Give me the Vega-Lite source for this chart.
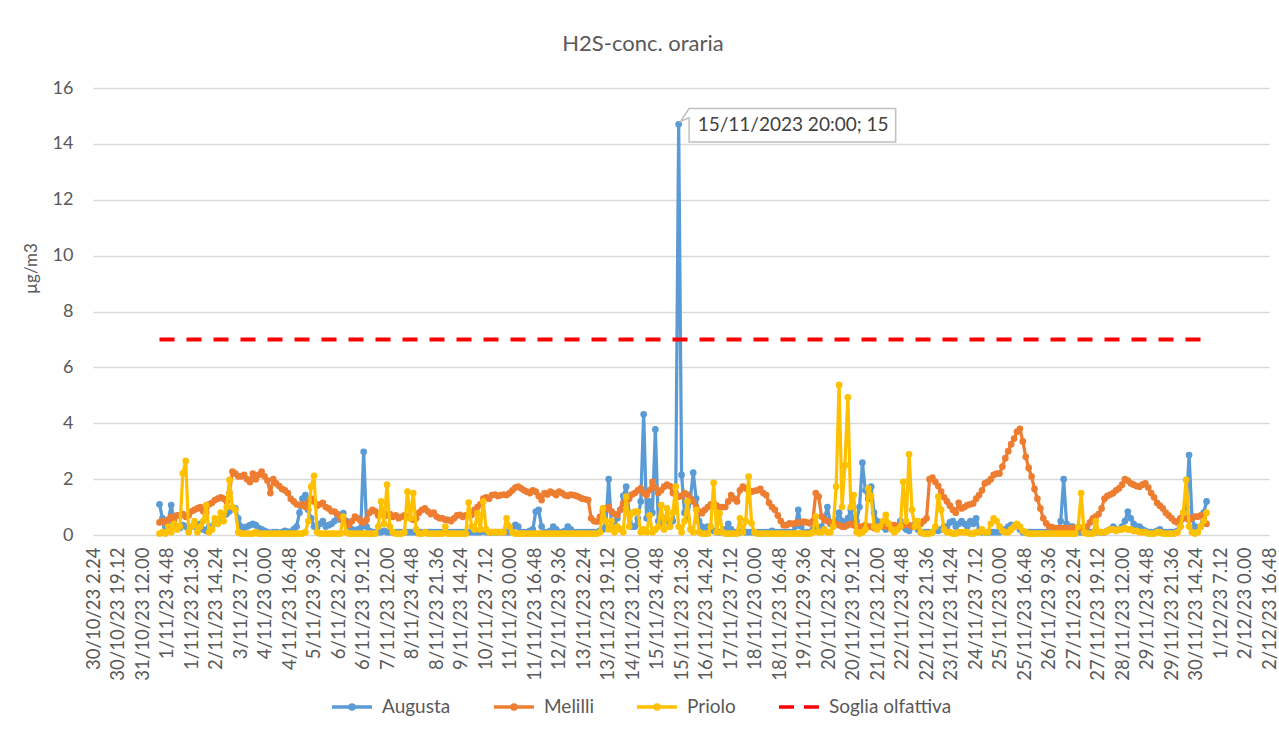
{
  "$schema": "https://vega.github.io/schema/vega-lite/v6.json",
  "autosize": {"type": "none"},
  "padding": {"left": 93, "top": 88, "right": 10, "bottom": 201},
  "width": 1176,
  "height": 447,
  "background": "white",
  "title": {"text": "H2S-conc. oraria", "fontSize": 22, "font": "Lato", "fontWeight": "normal", "color": "#595959", "anchor": "middle", "offset": 23, "dx": -38},
  "config": {
    "font": "Lato",
    "view": {"stroke": null}
  },
  "datasets": {
    "h2s": [
      {"t":"23110100","A":1.1,"M":0.45,"P":0.05},{"t":"23110102","A":0.6,"M":0.5,"P":0.1},{"t":"23110104","A":0.3,"M":0.45,"P":0.05},{"t":"23110106","A":0.5,"M":0.55,"P":0.3},{"t":"23110108","A":1.07,"M":0.65,"P":0.1},{"t":"23110110","A":0.5,"M":0.6,"P":0.4},{"t":"23110112","A":0.3,"M":0.7,"P":0.2},{"t":"23110114","A":0.25,"M":0.7,"P":0.3},{"t":"23110116","A":0.35,"M":0.75,"P":2.2},{"t":"23110118","A":0.3,"M":0.65,"P":2.65},{"t":"23110120","A":0.2,"M":0.7,"P":0.1},{"t":"23110122","A":0.3,"M":0.85,"P":0.3},
      {"t":"23110200","A":0.3,"M":0.9,"P":0.5},{"t":"23110202","A":0.25,"M":0.95,"P":0.1},{"t":"23110204","A":0.4,"M":1.0,"P":0.3},{"t":"23110206","A":0.2,"M":0.85,"P":0.5},{"t":"23110208","A":0.15,"M":0.8,"P":1.07},{"t":"23110210","A":0.3,"M":1.1,"P":0.1},{"t":"23110212","A":0.3,"M":1.15,"P":0.2},{"t":"23110214","A":0.45,"M":1.25,"P":0.6},{"t":"23110216","A":0.55,"M":1.3,"P":0.4},{"t":"23110218","A":0.6,"M":1.35,"P":0.8},{"t":"23110220","A":0.7,"M":1.3,"P":0.5},{"t":"23110222","A":0.75,"M":1.2,"P":1.0},
      {"t":"23110300","A":0.85,"M":1.5,"P":1.97},{"t":"23110302","A":0.95,"M":2.27,"P":1.0},{"t":"23110304","A":0.95,"M":2.2,"P":0.9},{"t":"23110306","A":0.6,"M":2.1,"P":0.1},{"t":"23110308","A":0.3,"M":2.1,"P":0.05},{"t":"23110310","A":0.25,"M":2.15,"P":0.05},{"t":"23110312","A":0.3,"M":2.0,"P":0.05},{"t":"23110314","A":0.35,"M":1.9,"P":0.05},{"t":"23110316","A":0.4,"M":2.2,"P":0.05},{"t":"23110318","A":0.35,"M":2.0,"P":0.1},{"t":"23110320","A":0.25,"M":2.15,"P":0.05},{"t":"23110322","A":0.2,"M":2.27,"P":0.05},
      {"t":"23110400","A":0.15,"M":2.1,"P":0.05},{"t":"23110402","A":0.1,"M":1.95,"P":0.05},{"t":"23110404","A":0.08,"M":1.5,"P":0.05},{"t":"23110406","A":0.1,"M":2.0,"P":0.05},{"t":"23110408","A":0.1,"M":1.85,"P":0.05},{"t":"23110410","A":0.08,"M":1.75,"P":0.05},{"t":"23110412","A":0.1,"M":1.65,"P":0.05},{"t":"23110414","A":0.15,"M":1.6,"P":0.05},{"t":"23110416","A":0.12,"M":1.5,"P":0.05},{"t":"23110418","A":0.1,"M":1.3,"P":0.05},{"t":"23110420","A":0.2,"M":1.2,"P":0.05},{"t":"23110422","A":0.3,"M":1.1,"P":0.05},
      {"t":"23110500","A":0.8,"M":1.07,"P":0.05},{"t":"23110502","A":1.3,"M":1.1,"P":0.05},{"t":"23110504","A":1.43,"M":1.0,"P":0.1},{"t":"23110506","A":0.9,"M":1.15,"P":0.5},{"t":"23110508","A":0.6,"M":1.3,"P":1.73},{"t":"23110510","A":0.3,"M":1.2,"P":2.12},{"t":"23110512","A":0.25,"M":1.05,"P":0.1},{"t":"23110514","A":0.4,"M":1.1,"P":0.05},{"t":"23110516","A":0.5,"M":1.15,"P":0.05},{"t":"23110518","A":0.3,"M":1.0,"P":0.05},{"t":"23110520","A":0.35,"M":0.95,"P":0.05},{"t":"23110522","A":0.4,"M":0.85,"P":0.05},
      {"t":"23110600","A":0.5,"M":0.84,"P":0.05},{"t":"23110602","A":0.7,"M":0.75,"P":0.05},{"t":"23110604","A":0.55,"M":0.6,"P":0.05},{"t":"23110606","A":0.78,"M":0.54,"P":0.66},{"t":"23110608","A":0.5,"M":0.45,"P":0.1},{"t":"23110610","A":0.3,"M":0.36,"P":0.05},{"t":"23110612","A":0.2,"M":0.5,"P":0.05},{"t":"23110614","A":0.15,"M":0.66,"P":0.05},{"t":"23110616","A":0.2,"M":0.6,"P":0.05},{"t":"23110618","A":0.25,"M":0.5,"P":0.05},{"t":"23110620","A":2.98,"M":0.45,"P":0.05},{"t":"23110622","A":0.3,"M":0.55,"P":0.05},
      {"t":"23110700","A":0.15,"M":0.8,"P":0.05},{"t":"23110702","A":0.1,"M":0.9,"P":0.05},{"t":"23110704","A":0.1,"M":0.85,"P":0.05},{"t":"23110706","A":0.1,"M":0.7,"P":0.3},{"t":"23110708","A":0.1,"M":0.75,"P":1.2},{"t":"23110710","A":0.15,"M":0.8,"P":0.4},{"t":"23110712","A":0.1,"M":0.7,"P":1.8},{"t":"23110714","A":0.1,"M":0.75,"P":0.3},{"t":"23110716","A":0.1,"M":0.65,"P":0.1},{"t":"23110718","A":0.1,"M":0.7,"P":0.05},{"t":"23110720","A":0.1,"M":0.6,"P":0.05},{"t":"23110722","A":0.1,"M":0.65,"P":0.05},
      {"t":"23110800","A":0.1,"M":0.7,"P":0.1},{"t":"23110802","A":0.1,"M":0.65,"P":1.55},{"t":"23110804","A":0.1,"M":0.6,"P":0.6},{"t":"23110806","A":0.1,"M":0.55,"P":1.5},{"t":"23110808","A":0.1,"M":0.6,"P":0.2},{"t":"23110810","A":0.1,"M":0.8,"P":0.05},{"t":"23110812","A":0.1,"M":0.9,"P":0.05},{"t":"23110814","A":0.1,"M":0.95,"P":0.1},{"t":"23110816","A":0.1,"M":0.85,"P":0.05},{"t":"23110818","A":0.1,"M":0.75,"P":0.05},{"t":"23110820","A":0.1,"M":0.8,"P":0.05},{"t":"23110822","A":0.1,"M":0.66,"P":0.05},
      {"t":"23110900","A":0.1,"M":0.6,"P":0.05},{"t":"23110902","A":0.1,"M":0.6,"P":0.05},{"t":"23110904","A":0.1,"M":0.55,"P":0.3},{"t":"23110906","A":0.1,"M":0.54,"P":0.05},{"t":"23110908","A":0.1,"M":0.5,"P":0.05},{"t":"23110910","A":0.1,"M":0.6,"P":0.05},{"t":"23110912","A":0.1,"M":0.7,"P":0.05},{"t":"23110914","A":0.1,"M":0.72,"P":0.05},{"t":"23110916","A":0.1,"M":0.65,"P":0.05},{"t":"23110918","A":0.1,"M":0.7,"P":0.05},{"t":"23110920","A":0.1,"M":0.72,"P":1.16},{"t":"23110922","A":0.1,"M":0.72,"P":0.3},
      {"t":"23111000","A":0.1,"M":0.9,"P":0.2},{"t":"23111002","A":0.1,"M":1.0,"P":0.78},{"t":"23111004","A":0.1,"M":1.1,"P":0.2},{"t":"23111006","A":0.15,"M":1.3,"P":1.2},{"t":"23111008","A":0.1,"M":1.35,"P":0.2},{"t":"23111010","A":0.1,"M":1.3,"P":0.1},{"t":"23111012","A":0.1,"M":1.43,"P":0.1},{"t":"23111014","A":0.1,"M":1.45,"P":0.1},{"t":"23111016","A":0.1,"M":1.4,"P":0.1},{"t":"23111018","A":0.1,"M":1.43,"P":0.1},{"t":"23111020","A":0.1,"M":1.45,"P":0.1},{"t":"23111022","A":0.1,"M":1.43,"P":0.6},
      {"t":"23111100","A":0.1,"M":1.5,"P":0.3},{"t":"23111102","A":0.2,"M":1.6,"P":0.1},{"t":"23111104","A":0.36,"M":1.7,"P":0.05},{"t":"23111106","A":0.3,"M":1.73,"P":0.05},{"t":"23111108","A":0.1,"M":1.67,"P":0.05},{"t":"23111110","A":0.1,"M":1.6,"P":0.05},{"t":"23111112","A":0.1,"M":1.55,"P":0.05},{"t":"23111114","A":0.15,"M":1.5,"P":0.05},{"t":"23111116","A":0.2,"M":1.6,"P":0.05},{"t":"23111118","A":0.84,"M":1.55,"P":0.05},{"t":"23111120","A":0.9,"M":1.4,"P":0.05},{"t":"23111122","A":0.3,"M":1.25,"P":0.05},
      {"t":"23111200","A":0.1,"M":1.5,"P":0.05},{"t":"23111202","A":0.1,"M":1.45,"P":0.05},{"t":"23111204","A":0.15,"M":1.55,"P":0.05},{"t":"23111206","A":0.3,"M":1.5,"P":0.05},{"t":"23111208","A":0.2,"M":1.43,"P":0.05},{"t":"23111210","A":0.1,"M":1.55,"P":0.05},{"t":"23111212","A":0.1,"M":1.5,"P":0.05},{"t":"23111214","A":0.15,"M":1.43,"P":0.05},{"t":"23111216","A":0.3,"M":1.4,"P":0.05},{"t":"23111218","A":0.2,"M":1.45,"P":0.05},{"t":"23111220","A":0.1,"M":1.43,"P":0.05},{"t":"23111222","A":0.1,"M":1.4,"P":0.05},
      {"t":"23111300","A":0.1,"M":1.35,"P":0.05},{"t":"23111302","A":0.1,"M":1.3,"P":0.05},{"t":"23111304","A":0.1,"M":1.28,"P":0.05},{"t":"23111306","A":0.1,"M":1.25,"P":0.05},{"t":"23111308","A":0.1,"M":0.6,"P":0.05},{"t":"23111310","A":0.1,"M":0.5,"P":0.05},{"t":"23111312","A":0.1,"M":0.48,"P":0.05},{"t":"23111314","A":0.15,"M":0.65,"P":0.1},{"t":"23111316","A":0.2,"M":0.84,"P":0.95},{"t":"23111318","A":0.3,"M":0.95,"P":0.5},{"t":"23111320","A":2.0,"M":1.0,"P":0.2},{"t":"23111322","A":0.3,"M":0.85,"P":0.5},
      {"t":"23111400","A":0.4,"M":0.75,"P":0.1},{"t":"23111402","A":0.6,"M":0.72,"P":0.3},{"t":"23111404","A":0.9,"M":0.9,"P":0.2},{"t":"23111406","A":1.4,"M":1.13,"P":0.1},{"t":"23111408","A":1.73,"M":1.2,"P":1.37},{"t":"23111410","A":0.8,"M":1.3,"P":0.3},{"t":"23111412","A":0.3,"M":1.45,"P":0.78},{"t":"23111414","A":0.3,"M":1.5,"P":0.84},{"t":"23111416","A":0.6,"M":1.6,"P":0.84},{"t":"23111418","A":1.2,"M":1.67,"P":0.1},{"t":"23111420","A":4.32,"M":1.5,"P":0.2},{"t":"23111422","A":0.6,"M":1.43,"P":0.1},
      {"t":"23111500","A":1.2,"M":1.6,"P":0.7},{"t":"23111502","A":0.8,"M":1.9,"P":0.1},{"t":"23111504","A":3.78,"M":1.7,"P":0.2},{"t":"23111506","A":0.5,"M":1.5,"P":0.3},{"t":"23111508","A":0.4,"M":1.6,"P":1.07},{"t":"23111510","A":0.6,"M":1.73,"P":0.2},{"t":"23111512","A":0.5,"M":1.8,"P":0.95},{"t":"23111514","A":0.3,"M":1.75,"P":0.3},{"t":"23111516","A":0.5,"M":1.5,"P":0.8},{"t":"23111518","A":1.5,"M":1.45,"P":1.73},{"t":"23111520","A":14.7,"M":1.37,"P":0.3},{"t":"23111522","A":2.15,"M":1.4,"P":0.1},
      {"t":"23111600","A":0.8,"M":1.5,"P":0.5},{"t":"23111602","A":0.6,"M":1.45,"P":1.2},{"t":"23111604","A":1.3,"M":1.3,"P":0.2},{"t":"23111606","A":2.23,"M":1.2,"P":0.1},{"t":"23111608","A":1.3,"M":1.0,"P":0.9},{"t":"23111610","A":0.5,"M":0.85,"P":0.1},{"t":"23111612","A":0.3,"M":0.78,"P":0.05},{"t":"23111614","A":0.2,"M":0.9,"P":0.05},{"t":"23111616","A":0.3,"M":1.0,"P":0.05},{"t":"23111618","A":0.2,"M":1.1,"P":0.3},{"t":"23111620","A":0.15,"M":1.13,"P":1.87},{"t":"23111622","A":0.1,"M":1.05,"P":0.1},
      {"t":"23111700","A":0.1,"M":1.0,"P":0.78},{"t":"23111702","A":0.15,"M":1.0,"P":0.1},{"t":"23111704","A":0.2,"M":1.0,"P":0.05},{"t":"23111706","A":0.4,"M":1.2,"P":0.05},{"t":"23111708","A":0.2,"M":1.43,"P":0.05},{"t":"23111710","A":0.1,"M":1.3,"P":0.05},{"t":"23111712","A":0.1,"M":1.2,"P":0.05},{"t":"23111714","A":0.1,"M":1.6,"P":0.6},{"t":"23111716","A":0.15,"M":1.73,"P":0.1},{"t":"23111718","A":0.1,"M":1.67,"P":0.5},{"t":"23111720","A":0.1,"M":1.6,"P":2.09},{"t":"23111722","A":0.1,"M":1.55,"P":0.42},
      {"t":"23111800","A":0.1,"M":1.58,"P":0.1},{"t":"23111802","A":0.1,"M":1.6,"P":0.05},{"t":"23111804","A":0.1,"M":1.65,"P":0.05},{"t":"23111806","A":0.1,"M":1.5,"P":0.05},{"t":"23111808","A":0.1,"M":1.43,"P":0.05},{"t":"23111810","A":0.1,"M":1.15,"P":0.05},{"t":"23111812","A":0.15,"M":1.0,"P":0.05},{"t":"23111814","A":0.1,"M":0.9,"P":0.05},{"t":"23111816","A":0.1,"M":0.7,"P":0.05},{"t":"23111818","A":0.1,"M":0.5,"P":0.05},{"t":"23111820","A":0.1,"M":0.35,"P":0.05},{"t":"23111822","A":0.1,"M":0.35,"P":0.05},
      {"t":"23111900","A":0.1,"M":0.42,"P":0.05},{"t":"23111902","A":0.1,"M":0.4,"P":0.05},{"t":"23111904","A":0.3,"M":0.42,"P":0.05},{"t":"23111906","A":0.9,"M":0.45,"P":0.05},{"t":"23111908","A":0.3,"M":0.45,"P":0.05},{"t":"23111910","A":0.1,"M":0.48,"P":0.05},{"t":"23111912","A":0.1,"M":0.45,"P":0.05},{"t":"23111914","A":0.1,"M":0.42,"P":0.05},{"t":"23111916","A":0.2,"M":0.5,"P":0.1},{"t":"23111918","A":0.3,"M":1.5,"P":0.66},{"t":"23111920","A":0.2,"M":1.37,"P":0.1},{"t":"23111922","A":0.3,"M":0.66,"P":0.1},
      {"t":"23112000","A":0.6,"M":0.54,"P":0.2},{"t":"23112002","A":1.0,"M":0.5,"P":0.1},{"t":"23112004","A":0.4,"M":0.45,"P":0.1},{"t":"23112006","A":0.3,"M":0.4,"P":0.3},{"t":"23112008","A":0.5,"M":0.4,"P":1.73},{"t":"23112010","A":0.8,"M":0.35,"P":5.37},{"t":"23112012","A":0.5,"M":0.3,"P":1.0},{"t":"23112014","A":0.4,"M":0.3,"P":2.5},{"t":"23112016","A":0.6,"M":0.35,"P":4.93},{"t":"23112018","A":0.9,"M":0.4,"P":1.0},{"t":"23112020","A":0.5,"M":0.35,"P":1.43},{"t":"23112022","A":0.5,"M":0.3,"P":0.1},
      {"t":"23112100","A":1.0,"M":0.3,"P":0.05},{"t":"23112102","A":2.59,"M":0.3,"P":0.1},{"t":"23112104","A":1.6,"M":0.35,"P":0.2},{"t":"23112106","A":1.3,"M":0.3,"P":1.67},{"t":"23112108","A":1.73,"M":0.3,"P":1.4},{"t":"23112110","A":0.8,"M":0.25,"P":0.3},{"t":"23112112","A":0.5,"M":0.3,"P":0.2},{"t":"23112114","A":0.4,"M":0.3,"P":0.3},{"t":"23112116","A":0.3,"M":0.35,"P":0.5},{"t":"23112118","A":0.2,"M":0.3,"P":0.72},{"t":"23112120","A":0.4,"M":0.3,"P":0.4},{"t":"23112122","A":0.3,"M":0.35,"P":0.2},
      {"t":"23112200","A":0.2,"M":0.35,"P":0.1},{"t":"23112202","A":0.3,"M":0.3,"P":0.2},{"t":"23112204","A":0.5,"M":0.3,"P":0.3},{"t":"23112206","A":0.3,"M":0.35,"P":1.9},{"t":"23112208","A":0.2,"M":0.4,"P":0.5},{"t":"23112210","A":0.15,"M":0.35,"P":2.89},{"t":"23112212","A":0.3,"M":0.3,"P":0.9},{"t":"23112214","A":0.4,"M":0.3,"P":0.3},{"t":"23112216","A":0.2,"M":0.35,"P":0.5},{"t":"23112218","A":0.1,"M":0.4,"P":0.1},{"t":"23112220","A":0.1,"M":0.5,"P":0.05},{"t":"23112222","A":0.1,"M":0.6,"P":0.05},
      {"t":"23112300","A":0.1,"M":2.0,"P":0.05},{"t":"23112302","A":0.1,"M":2.05,"P":0.1},{"t":"23112304","A":0.2,"M":1.9,"P":0.3},{"t":"23112306","A":0.15,"M":1.75,"P":1.37},{"t":"23112308","A":0.2,"M":1.55,"P":0.9},{"t":"23112310","A":0.3,"M":1.35,"P":0.2},{"t":"23112312","A":0.3,"M":1.2,"P":0.1},{"t":"23112314","A":0.45,"M":1.05,"P":0.1},{"t":"23112316","A":0.5,"M":0.9,"P":0.05},{"t":"23112318","A":0.3,"M":0.8,"P":0.05},{"t":"23112320","A":0.4,"M":1.15,"P":0.1},{"t":"23112322","A":0.5,"M":0.95,"P":0.1},
      {"t":"23112400","A":0.4,"M":1.0,"P":0.1},{"t":"23112402","A":0.3,"M":1.07,"P":0.1},{"t":"23112404","A":0.5,"M":1.1,"P":0.05},{"t":"23112406","A":0.4,"M":1.13,"P":0.05},{"t":"23112408","A":0.6,"M":1.3,"P":0.1},{"t":"23112410","A":0.15,"M":1.43,"P":0.1},{"t":"23112412","A":0.1,"M":1.6,"P":0.2},{"t":"23112414","A":0.1,"M":1.85,"P":0.1},{"t":"23112416","A":0.1,"M":1.9,"P":0.1},{"t":"23112418","A":0.1,"M":2.0,"P":0.4},{"t":"23112420","A":0.1,"M":2.15,"P":0.6},{"t":"23112422","A":0.1,"M":2.2,"P":0.5},
      {"t":"23112500","A":0.1,"M":2.2,"P":0.3},{"t":"23112502","A":0.15,"M":2.45,"P":0.15},{"t":"23112504","A":0.2,"M":2.75,"P":0.1},{"t":"23112506","A":0.3,"M":3.0,"P":0.1},{"t":"23112508","A":0.36,"M":3.25,"P":0.2},{"t":"23112510","A":0.3,"M":3.45,"P":0.3},{"t":"23112512","A":0.36,"M":3.7,"P":0.4},{"t":"23112514","A":0.2,"M":3.8,"P":0.3},{"t":"23112516","A":0.1,"M":3.35,"P":0.15},{"t":"23112518","A":0.1,"M":2.8,"P":0.1},{"t":"23112520","A":0.1,"M":2.4,"P":0.05},{"t":"23112522","A":0.1,"M":2.09,"P":0.05},
      {"t":"23112600","A":0.1,"M":1.65,"P":0.05},{"t":"23112602","A":0.1,"M":1.3,"P":0.05},{"t":"23112604","A":0.1,"M":0.95,"P":0.05},{"t":"23112606","A":0.1,"M":0.6,"P":0.05},{"t":"23112608","A":0.1,"M":0.42,"P":0.05},{"t":"23112610","A":0.1,"M":0.3,"P":0.05},{"t":"23112612","A":0.1,"M":0.28,"P":0.05},{"t":"23112614","A":0.1,"M":0.25,"P":0.05},{"t":"23112616","A":0.1,"M":0.25,"P":0.05},{"t":"23112618","A":0.5,"M":0.25,"P":0.05},{"t":"23112620","A":2.0,"M":0.25,"P":0.05},{"t":"23112622","A":0.4,"M":0.25,"P":0.05},
      {"t":"23112700","A":0.3,"M":0.25,"P":0.05},{"t":"23112702","A":0.3,"M":0.25,"P":0.05},{"t":"23112704","A":0.2,"M":0.25,"P":0.05},{"t":"23112706","A":0.1,"M":0.25,"P":0.3},{"t":"23112708","A":0.1,"M":0.25,"P":1.5},{"t":"23112710","A":0.1,"M":0.25,"P":0.1},{"t":"23112712","A":0.1,"M":0.3,"P":0.05},{"t":"23112714","A":0.1,"M":0.45,"P":0.05},{"t":"23112716","A":0.1,"M":0.6,"P":0.05},{"t":"23112718","A":0.1,"M":0.66,"P":0.5},{"t":"23112720","A":0.1,"M":0.75,"P":0.1},{"t":"23112722","A":0.1,"M":0.95,"P":0.1},
      {"t":"23112800","A":0.1,"M":1.3,"P":0.1},{"t":"23112802","A":0.15,"M":1.4,"P":0.15},{"t":"23112804","A":0.2,"M":1.45,"P":0.2},{"t":"23112806","A":0.3,"M":1.5,"P":0.2},{"t":"23112808","A":0.2,"M":1.6,"P":0.15},{"t":"23112810","A":0.2,"M":1.67,"P":0.2},{"t":"23112812","A":0.3,"M":1.8,"P":0.2},{"t":"23112814","A":0.5,"M":2.0,"P":0.25},{"t":"23112816","A":0.84,"M":1.95,"P":0.2},{"t":"23112818","A":0.6,"M":1.85,"P":0.2},{"t":"23112820","A":0.4,"M":1.8,"P":0.15},{"t":"23112822","A":0.3,"M":1.75,"P":0.15},
      {"t":"23112900","A":0.3,"M":1.73,"P":0.1},{"t":"23112902","A":0.2,"M":1.8,"P":0.1},{"t":"23112904","A":0.15,"M":1.85,"P":0.1},{"t":"23112906","A":0.1,"M":1.7,"P":0.05},{"t":"23112908","A":0.1,"M":1.5,"P":0.05},{"t":"23112910","A":0.1,"M":1.35,"P":0.05},{"t":"23112912","A":0.15,"M":1.15,"P":0.1},{"t":"23112914","A":0.2,"M":1.05,"P":0.1},{"t":"23112916","A":0.1,"M":0.95,"P":0.05},{"t":"23112918","A":0.1,"M":0.8,"P":0.05},{"t":"23112920","A":0.1,"M":0.7,"P":0.05},{"t":"23112922","A":0.1,"M":0.6,"P":0.05},
      {"t":"23113000","A":0.1,"M":0.5,"P":0.05},{"t":"23113002","A":0.15,"M":0.45,"P":0.1},{"t":"23113004","A":0.3,"M":0.6,"P":0.3},{"t":"23113006","A":0.6,"M":0.78,"P":0.8},{"t":"23113008","A":1.0,"M":0.6,"P":1.97},{"t":"23113010","A":2.86,"M":0.54,"P":0.3},{"t":"23113012","A":0.6,"M":0.6,"P":0.1},{"t":"23113014","A":0.3,"M":0.66,"P":0.05},{"t":"23113016","A":0.2,"M":0.66,"P":0.1},{"t":"23113018","A":0.3,"M":0.7,"P":0.3},{"t":"23113020","A":0.8,"M":0.6,"P":0.5},{"t":"23113022","A":1.2,"M":0.4,"P":0.8}
    ],
    "soglia": [
      {"t":"23110100","S":7},
      {"t":"23113022","S":7}
    ],
    "ann": [
      {"t":"23111520","v":14.7,"lab":"15/11/2023 20:00; 15"}
    ]
  },
  "encoding": {
    "x": {
      "field": "t", "type": "temporal", "title": null,
      "scale": {"domain": [{"year":2023,"month":10,"date":30,"hours":2,"minutes":24},{"year":2023,"month":12,"date":2,"hours":16,"minutes":48}], "nice": false},
      "axis": {
        "values": [
          {"year":2023,"month":10,"date":30,"hours":2,"minutes":24},{"year":2023,"month":10,"date":30,"hours":19,"minutes":12},{"year":2023,"month":10,"date":31,"hours":12,"minutes":0},
          {"year":2023,"month":11,"date":1,"hours":4,"minutes":48},{"year":2023,"month":11,"date":1,"hours":21,"minutes":36},{"year":2023,"month":11,"date":2,"hours":14,"minutes":24},
          {"year":2023,"month":11,"date":3,"hours":7,"minutes":12},{"year":2023,"month":11,"date":4,"hours":0,"minutes":0},{"year":2023,"month":11,"date":4,"hours":16,"minutes":48},
          {"year":2023,"month":11,"date":5,"hours":9,"minutes":36},{"year":2023,"month":11,"date":6,"hours":2,"minutes":24},{"year":2023,"month":11,"date":6,"hours":19,"minutes":12},
          {"year":2023,"month":11,"date":7,"hours":12,"minutes":0},{"year":2023,"month":11,"date":8,"hours":4,"minutes":48},{"year":2023,"month":11,"date":8,"hours":21,"minutes":36},
          {"year":2023,"month":11,"date":9,"hours":14,"minutes":24},{"year":2023,"month":11,"date":10,"hours":7,"minutes":12},{"year":2023,"month":11,"date":11,"hours":0,"minutes":0},
          {"year":2023,"month":11,"date":11,"hours":16,"minutes":48},{"year":2023,"month":11,"date":12,"hours":9,"minutes":36},{"year":2023,"month":11,"date":13,"hours":2,"minutes":24},
          {"year":2023,"month":11,"date":13,"hours":19,"minutes":12},{"year":2023,"month":11,"date":14,"hours":12,"minutes":0},{"year":2023,"month":11,"date":15,"hours":4,"minutes":48},
          {"year":2023,"month":11,"date":15,"hours":21,"minutes":36},{"year":2023,"month":11,"date":16,"hours":14,"minutes":24},{"year":2023,"month":11,"date":17,"hours":7,"minutes":12},
          {"year":2023,"month":11,"date":18,"hours":0,"minutes":0},{"year":2023,"month":11,"date":18,"hours":16,"minutes":48},{"year":2023,"month":11,"date":19,"hours":9,"minutes":36},
          {"year":2023,"month":11,"date":20,"hours":2,"minutes":24},{"year":2023,"month":11,"date":20,"hours":19,"minutes":12},{"year":2023,"month":11,"date":21,"hours":12,"minutes":0},
          {"year":2023,"month":11,"date":22,"hours":4,"minutes":48},{"year":2023,"month":11,"date":22,"hours":21,"minutes":36},{"year":2023,"month":11,"date":23,"hours":14,"minutes":24},
          {"year":2023,"month":11,"date":24,"hours":7,"minutes":12},{"year":2023,"month":11,"date":25,"hours":0,"minutes":0},{"year":2023,"month":11,"date":25,"hours":16,"minutes":48},
          {"year":2023,"month":11,"date":26,"hours":9,"minutes":36},{"year":2023,"month":11,"date":27,"hours":2,"minutes":24},{"year":2023,"month":11,"date":27,"hours":19,"minutes":12},
          {"year":2023,"month":11,"date":28,"hours":12,"minutes":0},{"year":2023,"month":11,"date":29,"hours":4,"minutes":48},{"year":2023,"month":11,"date":29,"hours":21,"minutes":36},
          {"year":2023,"month":11,"date":30,"hours":14,"minutes":24},{"year":2023,"month":12,"date":1,"hours":7,"minutes":12},{"year":2023,"month":12,"date":2,"hours":0,"minutes":0},
          {"year":2023,"month":12,"date":2,"hours":16,"minutes":48}
        ],
        "format": "%-d/%-m/%y %-H.%M",
        "labelAngle": 270, "labelFontSize": 18.5, "labelColor": "#595959", "labelPadding": 12,
        "labelOverlap": false, "labelFlush": false, "labelBound": false,
        "grid": false, "ticks": false, "tickSize": 0, "domain": false
      }
    }
  },
  "layer": [
    {
      "data": {"name": "h2s", "format": {"parse": {"t": "date:'%y%m%d%H'"}}},
      "layer": [
        {
          "mark": {"type": "line", "strokeWidth": 3.25, "strokeJoin": "round", "strokeCap": "round", "point": {"filled": true, "size": 45}},
          "encoding": {
            "y": {
              "field": "A", "type": "quantitative", "title": "µg/m3",
              "scale": {"domain": [0, 16], "nice": false},
              "axis": {
                "values": [0, 2, 4, 6, 8, 10, 12, 14, 16],
                "grid": true, "gridColor": "#D9D9D9", "gridWidth": 1.5,
                "domain": false, "ticks": false, "tickSize": 0, "labelPadding": 20,
                "labelFontSize": 18, "labelColor": "#595959",
                "titleFontSize": 17, "titleColor": "#595959", "titleFontWeight": "normal",
                "titleAngle": 270, "titleAlign": "center", "titleBaseline": "middle",
                "titleX": -62, "titleY": 180
              }
            },
            "color": {
              "datum": "A", "type": "nominal",
              "scale": {"domain": ["A", "M", "P", "S"], "range": ["#5B9BD5", "#ED7D31", "#FFC000", "#FF0000"]},
              "legend": {
                "orient": "none", "legendX": 237, "legendY": 597,
                "direction": "horizontal", "columns": 4, "title": null,
                "symbolType": "M-1,0H1", "symbolSize": 1600, "symbolStrokeWidth": 3,
                "labelFontSize": 19, "labelColor": "#595959", "labelOffset": 8, "columnPadding": 36,
                "labelExpr": "datum.label == 'A' ? 'Augusta' : datum.label == 'M' ? 'Melilli' : datum.label == 'P' ? 'Priolo' : 'Soglia olfattiva'",
                "encode": {
                  "symbols": {
                    "update": {
                      "shape": {"signal": "datum.value === 'S' ? 'M-1,0H1' : 'M-1,0H1M0.1,0A0.1,0.1,0,1,1,-0.1,0A0.1,0.1,0,1,1,0.1,0'"},
                      "strokeDash": {"signal": "datum.value === 'S' ? [15, 10] : []"},
                      "fill": {"scale": "color", "field": "value"},
                      "stroke": {"scale": "color", "field": "value"},
                      "strokeWidth": {"value": 3.5},
                      "opacity": {"value": 1},
                      "fillOpacity": {"value": 1}
                    }
                  }
                }
              }
            }
          }
        },
        {
          "mark": {"type": "line", "strokeWidth": 3.25, "strokeJoin": "round", "strokeCap": "round", "point": {"filled": true, "size": 45}},
          "encoding": {
            "y": {"field": "M", "type": "quantitative", "title": "µg/m3"},
            "color": {"datum": "M", "type": "nominal"}
          }
        },
        {
          "mark": {"type": "line", "strokeWidth": 3.25, "strokeJoin": "round", "strokeCap": "round", "point": {"filled": true, "size": 45}},
          "encoding": {
            "y": {"field": "P", "type": "quantitative", "title": "µg/m3"},
            "color": {"datum": "P", "type": "nominal"}
          }
        }
      ]
    },
    {
      "data": {"name": "soglia", "format": {"parse": {"t": "date:'%y%m%d%H'"}}},
      "mark": {"type": "line", "strokeWidth": 4, "strokeDash": [15, 12]},
      "encoding": {
        "y": {"field": "S", "type": "quantitative", "title": "µg/m3"},
        "color": {"datum": "S", "type": "nominal"}
      }
    },
    {
      "data": {"name": "ann", "format": {"parse": {"t": "date:'%y%m%d%H'"}}},
      "layer": [
        {
          "mark": {"type": "point", "shape": "M0.104,-0.157H2.17V0.176H0.104V-0.064L0.02,-0.03Z", "size": 40000, "filled": true, "fill": "white", "stroke": "#BFBFBF", "strokeWidth": 1.5, "opacity": 1},
          "encoding": {
            "y": {"field": "v", "type": "quantitative", "title": "µg/m3"}
          }
        },
        {
          "mark": {"type": "text", "align": "left", "baseline": "middle", "dx": 19, "dy": 1, "fontSize": 19, "color": "#404040"},
          "encoding": {
            "y": {"field": "v", "type": "quantitative", "title": "µg/m3"},
            "text": {"field": "lab"}
          }
        }
      ]
    }
  ]
}
